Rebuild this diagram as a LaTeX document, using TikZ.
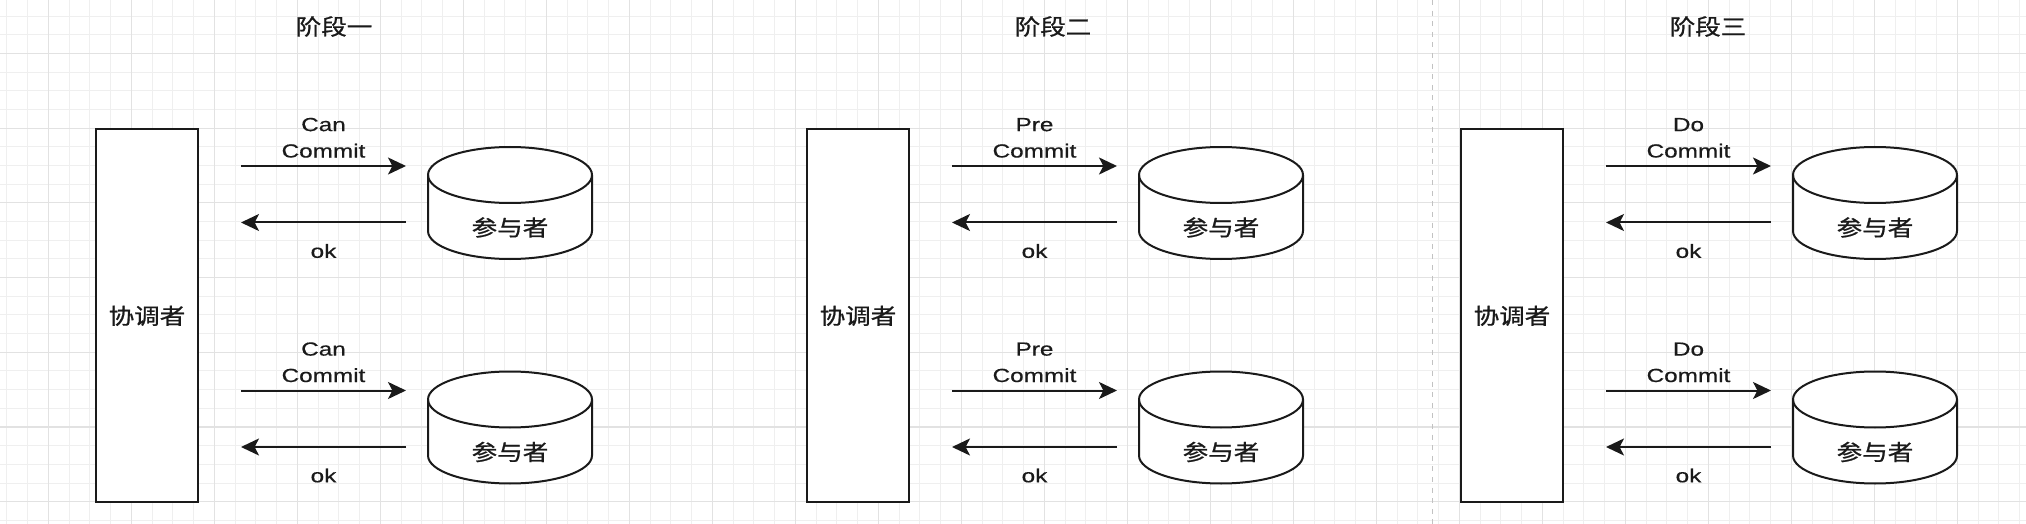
\documentclass[tikz,border=0pt]{standalone}
\usepackage{fontspec}
\setmainfont{Liberation Sans}[FakeBold=0.4]
\newfontfamily\cjk{Noto Sans CJK SC}[FakeBold=0.8]
\usepackage{graphicx}
\usetikzlibrary{arrows.meta}
\definecolor{ink}{HTML}{1A1A1A}
\definecolor{gridminor}{HTML}{EFEFEF}
\definecolor{gridmajor}{HTML}{E2E2E2}
\definecolor{dashgray}{HTML}{C2C2C2}
\newcommand\cjkx[1]{\scalebox{1.16}[1]{\cjk #1}}
\newcommand\latx[1]{\scalebox{1.28}[1]{#1}}
\begin{document}
\begin{tikzpicture}[x=0.5pt,y=-0.5pt,
  coordbox/.style={draw=ink, line width=1pt, fill=white, minimum width=51pt, minimum height=186.25pt, inner sep=0pt, text=ink, font=\fontsize{11}{13}\selectfont},
  cjklbl/.style={inner sep=0pt, text=ink, font=\fontsize{11}{13}\selectfont},
  msg/.style={inner sep=0pt, text=ink, align=center, font=\fontsize{9.5}{13.2}\selectfont},
  arr/.style={draw=ink, line width=1pt, -{Stealth[length=9pt, width=8.5pt, inset=2.2pt]}},
  cyl/.style={draw=ink, line width=1pt, fill=white},
  cyledge/.style={draw=ink, line width=1pt},
  minorline/.style={draw=gridminor, line width=0.5pt},
  majorline/.style={draw=gridmajor, line width=0.6pt},
  sepline/.style={draw=dashgray, line width=0.8pt, dash pattern=on 2.5pt off 2.8pt}]

\useasboundingbox (0,0) rectangle (2026,524);
\fill[white] (0,0) rectangle (2026,524);

% grid
\foreach \k in {0,...,97} \draw[minorline] ({6.8+20.75*\k},0) -- ({6.8+20.75*\k},524);
\foreach \k in {0,...,27} \draw[minorline] (0,{16.15+18.675*\k}) -- (2026,{16.15+18.675*\k});
\foreach \k in {0,...,23} \draw[majorline] ({48.3+83*\k},0) -- ({48.3+83*\k},524);
\foreach \k in {0,...,6} \draw[majorline] (0,{53.5+74.7*\k}) -- (2026,{53.5+74.7*\k});

% separator
\draw[sepline] (1432.5,0) -- (1432.5,524);

\foreach \s/\dx/\tx/\word/\title in {1/0/334/Can/阶段一, 2/711/1053/Pre/阶段二, 3/1365/1708/Do/阶段三}
{
  \node[cjklbl] (title\s) at (\tx,26.5) {\cjkx{\title}};
  \begin{scope}[shift={(\dx,0)}]
    \node[coordbox] (co\s) at (147,315.75) {\cjkx{协调者}};
    \foreach \r/\dy in {a/0, b/224.5}
    {
      \begin{scope}[shift={(0,\dy)}]
        \path[cyl] (428,175) arc[start angle=180, end angle=0, x radius=41pt, y radius=14pt]
          -- (592,231) arc[start angle=0, end angle=-180, x radius=41pt, y radius=14pt] -- cycle;
        \path[cyledge] (428,175) arc[start angle=180, end angle=360, x radius=41pt, y radius=14pt];
        \node[cjklbl] (pa\s\r) at (510,227.5) {\cjkx{参与者}};
        \coordinate (rs\s\r) at (241,166);
        \coordinate (re\s\r) at (406,166);
        \coordinate (ls\s\r) at (406,222.5);
        \coordinate (le\s\r) at (241,222.5);
        \draw[arr] (rs\s\r) -- (re\s\r);
        \draw[arr] (ls\s\r) -- (le\s\r);
        \node[msg, anchor=south] (m\s\r) at (323.5,158.1) {\latx{\word}\\\latx{Commit}};
        \node[msg] (ok\s\r) at (323.5,251) {\latx{ok}};
      \end{scope}
    }
  \end{scope}
}
\end{tikzpicture}
\end{document}
